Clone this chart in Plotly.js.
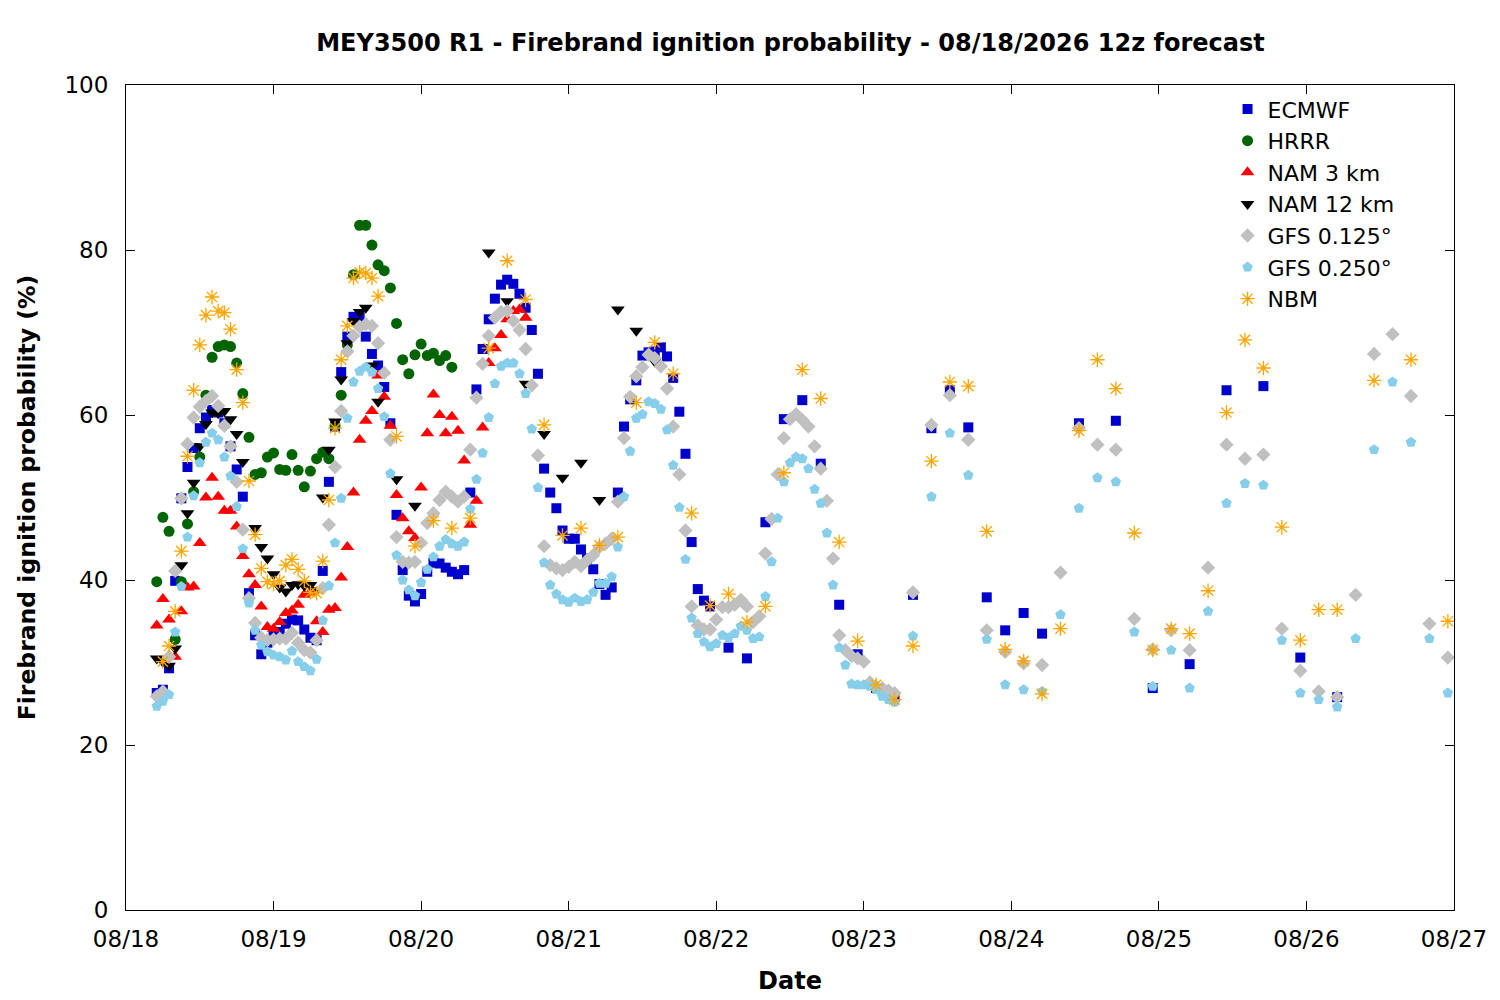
<!DOCTYPE html>
<html>
<head>
<meta charset="utf-8">
<script src="https://cdn.plot.ly/plotly-3.0.1.min.js"></script>
<style>
  html, body { margin: 0; padding: 0; background: #fff; }
  #chart { width: 1500px; height: 1000px; }
</style>
</head>
<body>
<div id="chart"></div>
<script>
// ============================================================
// MEY3500 R1 - firebrand ignition probability, 08/18/2026 12z
// Times are hours after 08/18 00:00 (local); values are percent.
// ============================================================

// ── ECMWF: hourly from h5, 3-hourly from h98, 6-hourly from h155 ──
var ECMWF_HOURLY = [
  26.3, 26.7, 29.3, 39.9, 49.9, 53.7, 56.0, 58.4, 59.7, 60.6,
  60.3, 59.0, 56.2, 53.4, 50.1, 38.4, 33.3, 31.0, 32.4, 33.3,
  33.7, 34.7, 35.2, 35.1, 34.0, 33.0, 32.7, 41.1, 51.9, 58.6,
  65.2, 69.5, 71.9, 71.9, 69.5, 67.4, 66.0, 63.4, 59.0, 47.9,
  41.2, 38.1, 37.4, 38.3, 41.0, 42.1, 42.0, 41.5, 41.0, 40.7,
  41.2, 50.6, 63.1, 68.0, 71.6, 74.1, 75.8, 76.4, 75.9, 74.7,
  73.0, 70.3, 65.0, 53.5, 50.6, 48.7, 46.0, 45.0, 45.0, 43.7,
  42.6, 41.3, 39.5, 38.2, 39.1, 50.6, 58.6, 61.9, 64.2, 67.2,
  67.6, 67.7, 68.2, 67.1, 64.5, 60.4, 55.3, 44.6, 38.9, 37.5,
  36.8
];
var ECMWF_3H = [31.8, 30.5, 47.0, 59.5, 61.8, 54.1, 37.0, 31.0, 26.9, 25.8,
  38.2, 58.4, 63.0, 58.5, 37.9, 33.9, 36.0, 33.5];
var ECMWF_6H = [59.0, 59.3, 26.9, 29.8, 63.0, 63.5, 30.6, 25.8];

// ── HRRR: hourly h5..h53 ──
var HRRR_HOURLY = [
  39.8, 47.6, 45.9, 32.8, 39.8, 46.8, 50.7, 54.9, 62.4, 67.0,
  68.3, 68.5, 68.3, 66.3, 62.6, 57.3, 52.8, 53.0, 54.9, 55.4,
  53.4, 53.3, 55.2, 53.3, 51.3, 53.2, 54.7, 55.5, 54.7, 58.7,
  62.4, 68.5, 77.0, 83.0, 83.0, 80.6, 78.2, 77.5, 75.4, 71.1,
  66.7, 65.0, 67.3, 68.6, 67.2, 67.5, 66.6, 67.2, 65.8
];

// ── NAM 3 km: hourly h5..h65 ──
var NAM3_HOURLY = [
  34.5, 37.7, 35.2, 30.7, 36.2, 39.1, 39.2, 44.5, 50.0, 52.4,
  50.1, 48.4, 48.4, 46.5, 42.9, 40.7, 39.4, 36.8, 34.3, 34.1,
  34.9, 36.0, 36.3, 37.0, 38.2, 38.5, 35.0, 33.7, 36.4, 36.6,
  40.3, 44.0, 50.6, 57.0, 59.3, 60.5, 64.8, 62.2, 58.7, 50.3,
  47.5, 45.9, 45.1, 51.2, 57.8, 62.5, 60.0, 57.8, 59.8, 58.1,
  54.5, 46.7, 49.6, 58.5, 66.3, 68.1, 69.7, 71.6, 72.6, 72.8,
  71.8
];

// ── NAM 12 km: hourly h5..h41, 3-hourly h44..h86 (null = not plotted) ──
var NAM12_HOURLY = [
  30.5, 30.1, 29.6, 31.7, 41.8, 48.1, 51.8, 56.2, 58.9, 60.3,
  60.2, 60.5, 59.5, 57.7, 54.3, null, 46.3, 44.0, 42.6, 40.7,
  39.1, 38.6, 39.4, 39.5, 39.3, 39.4, 38.8, 50.0, 55.8, 59.2,
  64.3, 68.7, 71.4, 72.5, 73.0, 66.0, 61.6
];
var NAM12_3H = [52.2, 49.0, null, null, null, 79.7, 73.8, 63.8, 57.7, 52.4,
  54.2, 49.7, 72.8, 70.2, 66.5];

// ── GFS 0.125°: hourly h5..h125, 3-hourly h128..h215 ──
var GFS125_HOURLY = [
  25.9, 26.5, 30.7, 41.1, 49.9, 56.5, 59.7, 61.0, 61.7, 62.3,
  61.1, 58.7, 56.2, 51.9, 46.1, 37.8, 34.8, 33.0, 32.7, 32.8,
  32.9, 32.9, 33.6, 32.4, 31.5, 31.2, 32.7, 39.0, 46.7, 53.7,
  60.5, 67.7, 69.6, 70.7, 71.0, 70.8, 68.7, 65.1, 57.0, 45.2,
  42.2, 42.1, 42.2, 44.5, 46.9, 48.1, 49.7, 50.7, 50.1, 49.5,
  50.1, 55.8, 62.1, 66.2, 69.6, 71.8, 72.5, 72.6, 71.4, 70.3,
  68.0, 63.6, 55.1, 44.1, 41.8, 41.4, 41.2, 41.6, 42.2, 41.7,
  42.4, 43.0, 44.0, 44.4, 45.0, 49.5, 57.2, 62.2, 64.7, 65.8,
  67.3, 66.9, 65.9, 63.2, 58.6, 52.8, 46.0, 36.8, 34.5, 34.0,
  34.0, 35.2, 36.7, 36.7, 37.0, 37.6, 36.8, 34.9, 35.6, 43.2,
  47.4, 52.8, 57.2, 59.5, 60.1, 59.4, 58.6, 56.2, 53.5, 49.6,
  42.6, 33.3, 31.5, 30.8, 30.5, 30.1, 27.6, 27.1, 26.9, 26.6,
  26.3
];
var GFS125_3H = [38.5, 58.8, 62.4, 57.0, 33.9, 31.3, 29.9, 29.7, 40.9, 58.4,
  56.4, 55.8, 35.3, 31.6, 33.9, 31.5, 41.5, 56.4, 54.7, 55.2,
  34.1, 29.0, 26.5, 25.8, 38.2, 67.4, 69.8, 62.3, 34.7, 30.6];

// ── GFS 0.250°: hourly h5..h125, 3-hourly h128..h215 ──
var GFS250_HOURLY = [
  24.7, 25.3, 26.1, 33.7, 39.2, 45.2, 50.2, 54.2, 56.7, 57.8,
  57.0, 54.9, 52.6, 48.9, 43.8, 37.2, 33.9, 32.1, 31.3, 30.9,
  30.7, 30.3, 31.4, 30.1, 29.5, 29.0, 30.4, 35.1, 39.3, 44.5,
  49.9, 59.6, 64.0, 65.3, 65.8, 65.2, 63.2, 59.8, 52.9, 43.0,
  40.0, 38.8, 38.1, 39.7, 41.3, 42.8, 44.1, 44.9, 44.4, 44.1,
  44.6, 48.6, 52.2, 55.4, 59.7, 63.8, 65.9, 66.3, 66.3, 65.0,
  62.6, 58.3, 51.2, 42.1, 39.4, 38.3, 37.6, 37.3, 37.8, 37.4,
  37.6, 38.5, 39.6, 39.6, 40.4, 44.0, 50.1, 55.6, 59.6, 60.1,
  61.6, 61.4, 60.7, 58.2, 53.9, 48.8, 42.5, 35.4, 33.5, 32.5,
  31.9, 32.3, 33.3, 33.0, 33.5, 34.4, 33.9, 32.9, 33.1, 38.0,
  42.2, 47.5, 51.9, 54.2, 54.9, 54.7, 53.5, 51.0, 49.3, 45.7,
  39.4, 31.8, 29.7, 27.4, 27.3, 27.3, 27.1, 26.7, 25.9, 25.5,
  25.2
];
var GFS250_3H = [33.2, 50.1, 57.8, 52.7, 32.8, 27.3, 26.7, 26.5, 35.8, 48.7,
  52.4, 51.9, 33.7, 27.1, 31.5, 26.9, 36.2, 49.3, 51.7, 51.5,
  32.7, 26.3, 25.5, 24.6, 32.9, 55.8, 64.0, 56.7, 32.9, 26.3];

// ── NBM: hourly h6..h41, 3-hourly h44..h197, 6-hourly h203..h215 ──
var NBM_HOURLY = [
  30.1, 32.0, 36.2, 43.5, 55.0, 63.0, 68.5, 72.1, 74.3, 72.6,
  72.4, 70.4, 65.5, 61.5, 52.0, 45.5, 41.4, 39.8, 39.5, 39.9,
  41.8, 42.5, 41.3, 39.9, 38.5, 38.4, 42.3, 49.7, 58.4, 66.7,
  70.8, 76.6, 77.3, 77.2, 76.6, 74.4
];
var NBM_3H = [
  57.4, 44.1, 47.2, 46.3, 47.5, 68.1, 78.7, 74.0, 58.8, 45.4,
  46.3, 44.2, 45.2, 61.5, 68.8, 65.0, 48.1, 36.9, 38.3, 34.9,
  36.8, 53.0, 65.5, 62.0, 44.6, 32.6, 27.3, 25.5, 32.0, 54.4,
  64.0, 63.5, 45.9, 31.6, 30.2, 26.2, 34.1, 58.1, 66.7, 63.2,
  45.7, 31.5, 34.1, 33.5, 38.7, 60.3, 69.1, 65.7, 46.4, 32.7,
  36.4, 36.4
];
var NBM_6H = [64.2, 66.7, 35.0];

// ── helpers ───────────────────────────────────────────────────
var BASE = Date.UTC(2026, 7, 18);

function stamp(hour) {
    return new Date(BASE + hour * 3600e3).toISOString().slice(0, 19).replace('T', ' ');
}

// parts: [startHour, stepHours, values]
function series(parts) {
    var x = [], y = [];
    parts.forEach(function (p) {
        p[2].forEach(function (v, i) {
            x.push(stamp(p[0] + i * p[1]));
            y.push(v);
        });
    });
    return { x: x, y: y };
}

function trace(name, data, symbol, color, size, open) {
    var marker = { symbol: symbol, size: size, color: color, line: { width: 0 } };
    if (open) marker.line = { width: 1.3, color: color };
    return { type: 'scatter', mode: 'markers', name: name, x: data.x, y: data.y,
        marker: marker, hoverinfo: 'x+y+name', cliponaxis: true };
}

var traces = [
    trace('ECMWF', series([[5, 1, ECMWF_HOURLY], [98, 3, ECMWF_3H], [155, 6, ECMWF_6H]]),
        'square', '#0000cc', 10),
    trace('HRRR', series([[5, 1, HRRR_HOURLY]]), 'circle', '#006400', 11),
    trace('NAM 3 km', series([[5, 1, NAM3_HOURLY]]), 'triangle-up', '#ff0000', 12),
    trace('NAM 12 km', series([[5, 1, NAM12_HOURLY], [44, 3, NAM12_3H]]),
        'triangle-down', '#000000', 12),
    trace('GFS 0.125°', series([[5, 1, GFS125_HOURLY], [128, 3, GFS125_3H]]),
        'diamond', '#c0c0c0', 11),
    trace('GFS 0.250°', series([[5, 1, GFS250_HOURLY], [128, 3, GFS250_3H]]),
        'pentagon', '#87ceeb', 11),
    trace('NBM', series([[6, 1, NBM_HOURLY], [44, 3, NBM_3H], [203, 6, NBM_6H]]),
        'asterisk-open', '#ffa500', 12, true)
];

var FONT = 'DejaVu Sans, Liberation Sans, sans-serif';

var layout = {
    width: 1500, height: 1000,
    paper_bgcolor: '#fff', plot_bgcolor: '#fff',
    margin: { l: 126, r: 46, t: 85, b: 90 },
    font: { family: FONT, size: 23, color: '#000' },
    title: { text: 'MEY3500 R1 - Firebrand ignition probability - 08/18/2026 12z forecast',
        font: { family: FONT, size: 24, weight: 'bold', color: '#000' },
        x: 0.527, xanchor: 'center', y: 0.957, yanchor: 'middle' },
    xaxis: {
        type: 'date', range: ['2026-08-18', '2026-08-27'],
        dtick: 86400000, tick0: '2026-08-18', tickformat: '%m/%d',
        ticks: 'inside', ticklen: 9, tickcolor: '#000', tickwidth: 1,
        showline: true, linecolor: '#000', linewidth: 1, mirror: 'ticks',
        showgrid: false, zeroline: false, ticklabelstandoff: 8,
        tickfont: { family: FONT, size: 23 },
        title: { text: 'Date', font: { family: FONT, size: 24, weight: 'bold' }, standoff: 21 }
    },
    yaxis: {
        range: [0, 100], dtick: 20,
        ticks: 'inside', ticklen: 9, tickcolor: '#000', tickwidth: 1,
        showline: true, linecolor: '#000', linewidth: 1, mirror: 'ticks',
        showgrid: false, zeroline: false, ticklabelstandoff: 12,
        tickfont: { family: FONT, size: 23 },
        title: { text: 'Firebrand ignition probability (%)',
            font: { family: FONT, size: 23.5, weight: 'bold' }, standoff: 22 }
    },
    legend: {
        x: 0.959, xanchor: 'right', y: 0.996, yanchor: 'top',
        bgcolor: 'rgba(0,0,0,0)', borderwidth: 0,
        font: { family: FONT, size: 22 }, itemsizing: 'trace'
    },
    showlegend: true
};

Plotly.newPlot('chart', traces, layout, { displayModeBar: false, staticPlot: true });
</script>
</body>
</html>
